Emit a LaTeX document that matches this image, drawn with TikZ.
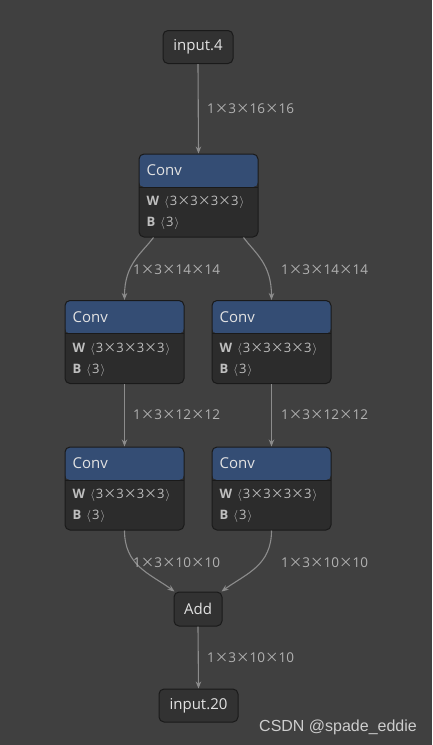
\documentclass[tikz,border=0pt]{standalone}
\usepackage{fontspec}
\setmainfont{Open Sans}
\newfontfamily\wmfont{Liberation Sans}
\newfontfamily\cjk{Noto Sans CJK SC}
\usetikzlibrary{arrows.meta}
\definecolor{bg}{RGB}{64,64,64}
\definecolor{nodefill}{RGB}{50,50,50}
\definecolor{nodeborder}{RGB}{26,26,26}
\definecolor{headblue}{RGB}{52,77,116}
\definecolor{bodyfill}{RGB}{44,44,44}
\definecolor{txt}{RGB}{226,226,226}
\definecolor{edgecol}{RGB}{140,140,140}
\definecolor{lblcol}{RGB}{178,178,178}
\definecolor{attrcol}{RGB}{190,190,190}
\definecolor{wcol}{RGB}{205,205,205}
\newcommand{\bx}{{\cjk ×}}
\tikzset{
  plainbox/.style={draw=nodeborder, fill=nodefill, rounded corners=5pt, line width=1pt,
    text=txt, font=\fontsize{15}{18}\selectfont, inner sep=0pt, minimum height=33pt},
  convbox/.style={draw=nodeborder, fill=bodyfill, rounded corners=5pt, line width=1pt,
    minimum width=119pt, minimum height=83pt, inner sep=0pt,
    path picture={
      \fill[headblue] (path picture bounding box.north west) rectangle ([yshift=-33pt]path picture bounding box.north east);
      \draw[nodeborder, line width=1pt] ([yshift=-33pt]path picture bounding box.north west) -- ([yshift=-33pt]path picture bounding box.north east);
    }},
  convtitle/.style={anchor=west, text=txt, font=\fontsize{15}{18}\selectfont, inner sep=0pt},
  attr/.style={anchor=west, text=attrcol, font=\fontsize{13}{15}\selectfont, inner sep=0pt},
  elabel/.style={anchor=west, text=lblcol, font=\fontsize{13.5}{15}\selectfont, inner sep=0pt},
  edge/.style={draw=edgecol, line width=1.1pt, -{Stealth[length=7pt,width=5.5pt]}},
}
\newcommand{\convattrs}[1]{%
  \node[convtitle] (#1t) at ([xshift=8pt,yshift=-17pt]#1.north west) {Conv};
  \node[attr] (#1w) at ([xshift=8pt,yshift=-49pt]#1.north west) {\textbf{W}\hspace{5pt}$\langle$\kern1pt 3\bx 3\bx 3\bx 3\kern1pt$\rangle$};
  \node[attr] (#1b) at ([xshift=8pt,yshift=-70pt]#1.north west) {\textbf{B}\hspace{5pt}$\langle$\kern1pt 3\kern1pt$\rangle$};
}
\begin{document}
\begin{tikzpicture}[x=1pt,y=-1pt]
\fill[bg] (0,0) rectangle (432,745);
\useasboundingbox (0,0) rectangle (432,745);

\node[plainbox, minimum width=70pt] (in4) at (198,47) {input.4};
\node[convbox] (c1) at (198.5,195.5) {};
\node[convbox] (c2) at (124.5,342) {};
\node[convbox] (c3) at (271.5,342) {};
\node[convbox] (c4) at (124.5,488.5) {};
\node[convbox] (c5) at (271.5,488.5) {};
\node[plainbox, minimum width=48pt, minimum height=34pt] (add) at (198,609) {Add};
\node[plainbox, minimum width=79pt] (out) at (198.5,705.5) {input.20};

\convattrs{c1}
\convattrs{c2}
\convattrs{c3}
\convattrs{c4}
\convattrs{c5}

\draw[edge] (in4.south) -- (c1.north);
\draw[edge] ([xshift=-45pt]c1.south) .. controls +(-12,16) and +(0,-36) .. (c2.north);
\draw[edge] ([xshift=45pt]c1.south) .. controls +(12,16) and +(0,-36) .. (c3.north);
\draw[edge] (c2.south) -- (c4.north);
\draw[edge] (c3.south) -- (c5.north);
\draw[edge] (c4.south) .. controls +(0,35) and +(-25,-18) .. ([xshift=1pt]add.north west);
\draw[edge] (c5.south) .. controls +(0,35) and +(25,-18) .. ([xshift=-1pt]add.north east);
\draw[edge] (add.south) -- (out.north);

\node[elabel] (l1) at (207,108.5) {1\bx 3\bx 16\bx 16};
\node[elabel] (l2) at (133,269.5) {1\bx 3\bx 14\bx 14};
\node[elabel] (l3) at (281,269.5) {1\bx 3\bx 14\bx 14};
\node[elabel] (l4) at (133,414.5) {1\bx 3\bx 12\bx 12};
\node[elabel] (l5) at (281,414.5) {1\bx 3\bx 12\bx 12};
\node[elabel] (l6) at (133,562.5) {1\bx 3\bx 10\bx 10};
\node[elabel] (l7) at (281,562.5) {1\bx 3\bx 10\bx 10};
\node[elabel] (l8) at (207,657.5) {1\bx 3\bx 10\bx 10};

\node[anchor=west, text=wcol, font=\wmfont\fontsize{16}{18}\selectfont, inner sep=0pt] (wm) at (259,727) {CSDN @spade\_eddie};
\end{tikzpicture}
\end{document}
